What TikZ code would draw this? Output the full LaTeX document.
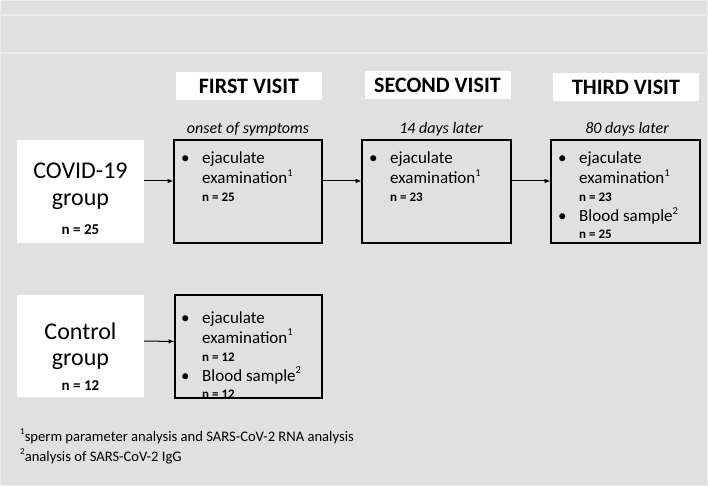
\documentclass[tikz,border=0pt]{standalone}
\usepackage{fontspec}
\setmainfont{Carlito}
\usetikzlibrary{arrows,positioning}
\definecolor{bggray}{RGB}{224,224,224}
\definecolor{linegray}{RGB}{237,237,237}
\newcommand{\nsmall}[1]{{\fontsize{13}{15}\selectfont\bfseries #1}}
\newcommand{\nbig}[1]{{\fontsize{15}{17}\selectfont\bfseries #1}}
\newcommand{\fnmark}[1]{\raisebox{0.42em}{\fontsize{0.62em}{1em}\selectfont #1}}

\begin{document}
\begin{tikzpicture}[x=1pt,y=-1pt,
    whitebox/.style={fill=white,inner sep=0pt},
    headbox/.style={whitebox,minimum width=146pt,minimum height=28pt,font=\bfseries\fontsize{22}{26}\selectfont},
    groupbox/.style={whitebox,minimum width=127pt,minimum height=103pt},
    grouptext/.style={align=center,inner sep=0pt,anchor=base,font=\fontsize{24}{26}\selectfont},
    visitbox/.style={draw=black,line width=1.3pt,minimum width=148pt,minimum height=103pt,inner sep=0pt},
    subtext/.style={font=\itshape\fontsize{16}{18}\selectfont},
    itemtext/.style={anchor=base west,inner sep=0pt,font=\fontsize{17}{20}\selectfont},
    foot/.style={anchor=base west,inner sep=0pt,font=\fontsize{14.6}{17}\selectfont},
    arr/.style={-latex,line width=1pt}]
\useasboundingbox (0,0) rectangle (708,486);
% background
\fill[bggray] (0,0) rectangle (708,486);
\draw[linegray,line width=2pt] (0,0) rectangle (708,486);
\draw[linegray,line width=2pt] (0,15) -- (708,15);
\draw[linegray,line width=2pt] (0,53) -- (708,53);
% visit headers
\node[headbox] (h1) at (249,86) {FIRST VISIT};
\node[headbox] (h2) at (437.5,85) {SECOND VISIT};
\node[headbox] (h3) at (626,87) {THIRD VISIT};
\node[subtext] (s1) at (248,129) {onset of symptoms};
\node[subtext] (s2) at (441,129) {14 days later};
\node[subtext] (s3) at (627,129) {80 days later};
% groups
\node[groupbox] (covid) at (80.5,191.5) {};
\node[grouptext] (covidt) at (80.5,234) {COVID-19\\group\\[3pt]\nbig{n = 25}};
\node[groupbox,minimum height=102pt] (ctrl) at (80.5,346) {};
\node[grouptext] (ctrlt) at (80.5,390) {Control\\group\\[-1pt]\nbig{n = 12}};
% visit boxes
\node[visitbox] (v1) at (248,191.5) {};
\node[visitbox,minimum width=149pt] (v2) at (436.5,191.5) {};
\node[visitbox,minimum width=149pt] (v3) at (625.5,191.5) {};
\node[visitbox,minimum width=147pt] (c1) at (248.5,346.5) {};
% box contents
\node[itemtext] (v1t) at (181,164) {\begin{tabular}[t]{@{}p{21pt}@{}l@{}}
\textbullet & ejaculate\\
 & examination\fnmark{1}\\[-2pt]
 & \nsmall{n = 25}
\end{tabular}};
\node[itemtext] (v2t) at (369,164) {\begin{tabular}[t]{@{}p{21pt}@{}l@{}}
\textbullet & ejaculate\\
 & examination\fnmark{1}\\[-2pt]
 & \nsmall{n = 23}
\end{tabular}};
\node[itemtext] (v3t) at (558,164) {\begin{tabular}[t]{@{}p{21pt}@{}l@{}}
\textbullet & ejaculate\\
 & examination\fnmark{1}\\[-2pt]
 & \nsmall{n = 23}\\
\textbullet & Blood sample\fnmark{2}\\[-3pt]
 & \nsmall{n = 25}
\end{tabular}};
\node[itemtext] (c1t) at (181,323) {\begin{tabular}[t]{@{}p{21pt}@{}l@{}}
\textbullet & ejaculate\\
 & examination\fnmark{1}\\[-2pt]
 & \nsmall{n = 12}\\
\textbullet & Blood sample\fnmark{2}\\[-3pt]
 & \nsmall{n = 12}
\end{tabular}};
% arrows
\draw[arr] ([yshift=10.5pt]covid.east) -- ([yshift=10.5pt]v1.west);
\draw[arr] ([yshift=10.5pt]v1.east) -- ([yshift=10.5pt]v2.west);
\draw[arr] ([yshift=10.5pt]v2.east) -- ([yshift=10.5pt]v3.west);
\draw[arr] ([yshift=5pt]ctrl.east) -- ([yshift=5pt]c1.west);
% footnotes
\node[foot] (fn1) at (20,441) {\fnmark{1}sperm parameter analysis and SARS-CoV-2 RNA analysis};
\node[foot] (fn2) at (20,461) {\fnmark{2}analysis of SARS-CoV-2 IgG};
\end{tikzpicture}
\end{document}
